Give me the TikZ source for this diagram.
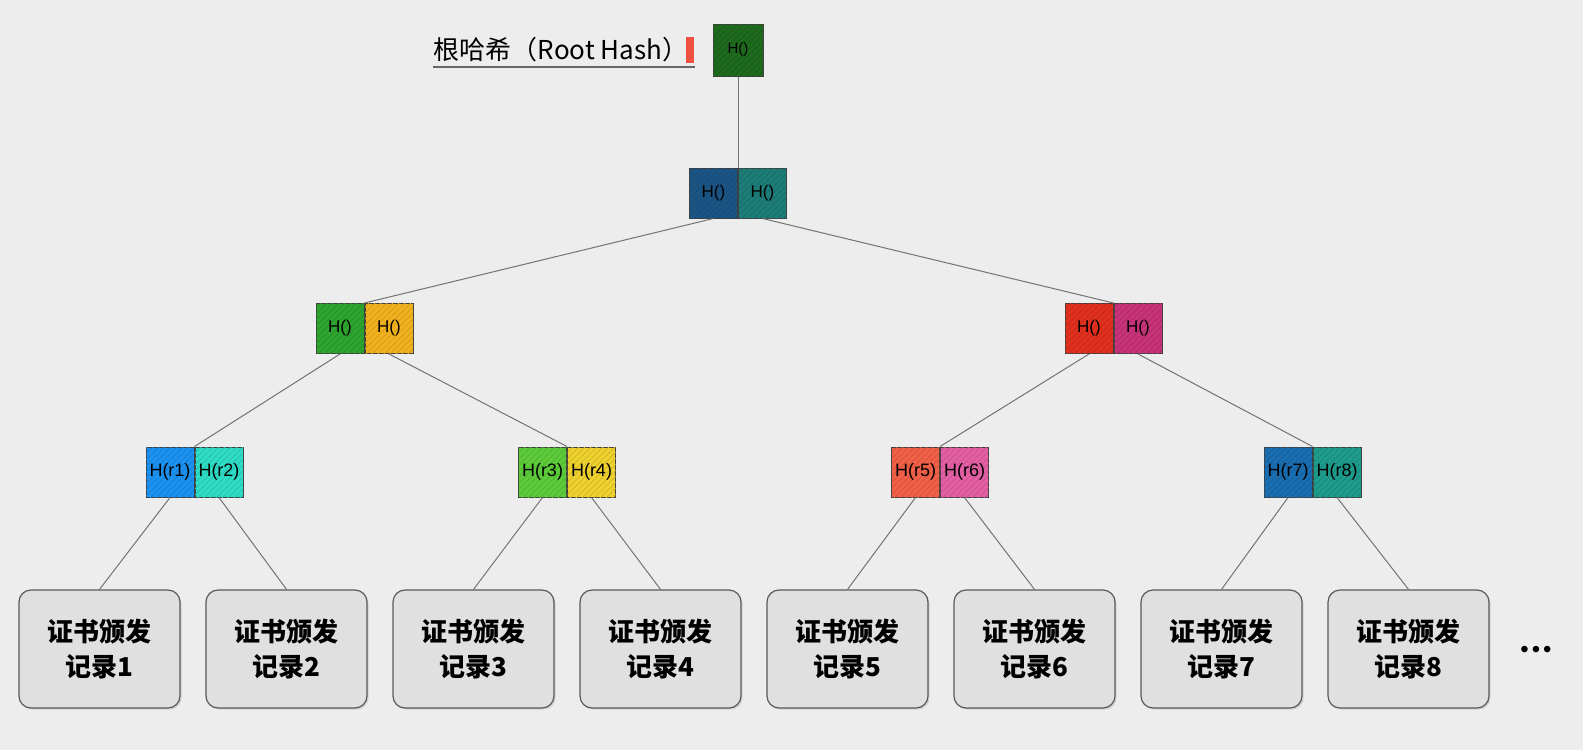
\documentclass[tikz,border=0pt]{standalone}
\usepackage{fontspec}
\setmainfont{Liberation Sans}
\newfontfamily\cjk{Noto Sans CJK SC}
\usetikzlibrary{positioning,patterns,shadows}
\definecolor{paper}{HTML}{EDEDED}
\definecolor{leafgray}{HTML}{E0E0E0}
\definecolor{cursorred}{HTML}{F05040}
\definecolor{rootgreen}{HTML}{1E6B1E}
\definecolor{lonea}{HTML}{1B5585}
\definecolor{loneb}{HTML}{1D7D78}
\definecolor{ltwoa}{HTML}{2EA52E}
\definecolor{ltwob}{HTML}{F2B21E}
\definecolor{ltwoc}{HTML}{E2301E}
\definecolor{ltwod}{HTML}{C8337A}
\definecolor{cOne}{HTML}{1C93F2}
\definecolor{cTwo}{HTML}{2EDDC6}
\definecolor{cThree}{HTML}{5DCC3A}
\definecolor{cFour}{HTML}{F0D22E}
\definecolor{cFive}{HTML}{F26048}
\definecolor{cSix}{HTML}{E55FA5}
\definecolor{cSeven}{HTML}{1A6EB2}
\definecolor{cEight}{HTML}{1E9C8C}
\def\halfw{24pt}
\def\halfh{25pt}

\begin{document}
\begin{tikzpicture}[x=0.5pt,y=-0.5pt,inner sep=0pt,
    link/.style={draw=black!55,line width=0.5pt},
    hbox/.style={draw=black!75,line width=0.5pt,fill=#1,
        postaction={pattern=north east lines,pattern color=#1!88!black},
        minimum width=\halfw,minimum height=\halfh,inner sep=0pt}]
    \tikzstyle{leaf}=[draw=black!65,line width=0.6pt,fill=leafgray,rounded corners=6pt,
        minimum width=80.5pt,minimum height=59pt,align=center,
        font=\cjk\bfseries\fontsize{13}{17.5}\selectfont,
        drop shadow={opacity=0.25,shadow xshift=0.8pt,shadow yshift=-0.8pt}]
    \tikzstyle{annot}=[font=\cjk\fontsize{13}{15}\selectfont]

    % Paper
    \fill[paper] (0,0) rectangle (1583,750);
    \useasboundingbox (0,0) rectangle (1583,750);

    % Root hash and its label
    \node[hbox=rootgreen,minimum width=25pt,minimum height=26pt,font=\fontsize{7.5}{8}\selectfont] (root) at (738,50) {H()};
    \node[annot] (hashlbl) at (561,50) {根哈希（Root Hash）};
    \node[fill=cursorred,minimum width=4pt,minimum height=13pt] (cursor) at (690,50) {};
    \coordinate (ul-l) at (433,67);
    \coordinate (ul-r) at (695,67);
    \draw[black!60,line width=0.6pt] (ul-l) -- (ul-r);

    % Draw the first level
    \node[hbox=lonea,font=\fontsize{8.5}{9}\selectfont] (L1a) at (713.5,193) {H()};
    \node[hbox=loneb,font=\fontsize{8.5}{9}\selectfont,right=0pt of L1a] (L1b) {H()};

    % Draw the second level
    \foreach \x/\ca/\cb [count=\i] in {340/ltwoa/ltwob,1089/ltwoc/ltwod} {
        \node[hbox=\ca,font=\fontsize{8.5}{9}\selectfont] (L2a-\i) at (\x,328.5) {H()};
        \node[hbox=\cb,font=\fontsize{8.5}{9}\selectfont,right=0pt of L2a-\i] (L2b-\i) {H()};
    }

    % Draw the third level
    \foreach \x/\ca/\cb [count=\i] in {170/cOne/cTwo,542.5/cThree/cFour,915.5/cFive/cSix,1288/cSeven/cEight} {
        \pgfmathtruncatemacro{\ra}{2*\i-1}
        \pgfmathtruncatemacro{\rb}{2*\i}
        \node[hbox=\ca,font=\fontsize{9}{9}\selectfont] (L3a-\i) at (\x,472) {H(r\ra)};
        \node[hbox=\cb,font=\fontsize{9}{9}\selectfont,right=0pt of L3a-\i] (L3b-\i) {H(r\rb)};
    }

    % Draw the records
    \foreach \i in {1,...,8}
        \node[leaf] (R-\i) at ({99.5+187*(\i-1)},649) {证书颁发\\记录\i};
    \node[font=\fontsize{12}{12}\selectfont] (more) at (1536,652) {•\hspace{1.5pt}•\hspace{1.5pt}•};

    % Connect the levels
    \draw[link] (root.south) -- (L1a.north east);
    \draw[link] (L1a.south) -- (L2a-1.north east);
    \draw[link] (L1b.south) -- (L2a-2.north east);
    \foreach \p in {1,2} {
        \pgfmathtruncatemacro{\ka}{2*\p-1}
        \pgfmathtruncatemacro{\kb}{2*\p}
        \draw[link] (L2a-\p.south) -- (L3a-\ka.north east);
        \draw[link] (L2b-\p.south) -- (L3a-\kb.north east);
    }
    \foreach \i in {1,...,4} {
        \pgfmathtruncatemacro{\ka}{2*\i-1}
        \pgfmathtruncatemacro{\kb}{2*\i}
        \draw[link] (L3a-\i.south) -- (R-\ka.north);
        \draw[link] (L3b-\i.south) -- (R-\kb.north);
    }
\end{tikzpicture}
\end{document}
